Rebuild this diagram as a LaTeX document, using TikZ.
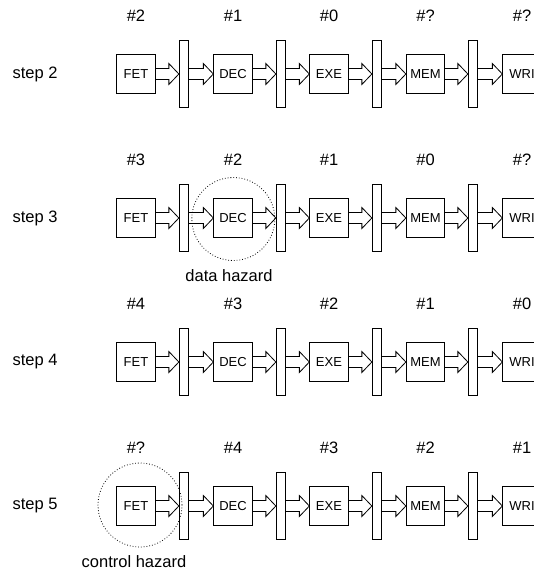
\documentclass[tikz,border=0pt]{standalone}
\usepackage{fontspec}
\setmainfont{Liberation Sans}
\usetikzlibrary{calc}
\newcommand\blockarrow[2]{%
  \draw[blk] let \p1=(#1.east), \p2=(#2.west) in
    (\x1,\y1-5.5pt) -- (\x2-10pt,\y1-5.5pt) -- (\x2-10pt,\y1-10.5pt) -- (\x2,\y1)
    -- (\x2-10pt,\y1+10.5pt) -- (\x2-10pt,\y1+5.5pt) -- (\x1,\y1+5.5pt);}
\begin{document}
\begin{tikzpicture}[x=1pt,y=-1pt,
  stage/.style={draw, line width=0.8pt, minimum width=38.5pt, minimum height=38.5pt, inner sep=0pt, font=\fontsize{13}{15}\selectfont},
  latch/.style={draw, line width=0.8pt, minimum width=9.5pt, minimum height=66.5pt, inner sep=0pt},
  lbl/.style={inner sep=0pt, font=\fontsize{16.5}{19}\selectfont},
  blk/.style={draw, line width=0.8pt, line join=miter},
  hazard/.style={draw, circle, line width=0.8pt, dash pattern=on 0.8pt off 2pt, inner sep=0pt}]
\useasboundingbox (0,0) rectangle (534,572);
\clip (0,0) rectangle (534,572);
\foreach \r/\y/\s/\ha/\hb/\hc/\hd/\he in {1/74/2/2/1/0/?/?, 2/218/3/3/2/1/0/?, 3/362/4/4/3/2/1/0, 4/506/5/?/4/3/2/1} {
  \node[lbl] (s\r) at (35,\y) {step \s};
  \node[stage] (f\r) at (136,\y) {FET};
  \node[latch] (ba\r) at (184,\y) {};
  \node[stage] (d\r) at (233,\y) {DEC};
  \node[latch] (bb\r) at (281,\y) {};
  \node[stage] (e\r) at (329,\y) {EXE};
  \node[latch] (bc\r) at (377,\y) {};
  \node[stage] (m\r) at (425.5,\y) {MEM};
  \node[latch] (bd\r) at (473,\y) {};
  \node[stage] (w\r) at (522,\y) {WRI};
  \node[lbl] (ha\r) at (136,\y-58) {\#\ha};
  \node[lbl] (hb\r) at (233,\y-58) {\#\hb};
  \node[lbl] (hc\r) at (329,\y-58) {\#\hc};
  \node[lbl] (hd\r) at (425.5,\y-58) {\#\hd};
  \node[lbl] (he\r) at (522,\y-58) {\#\he};
  \blockarrow{f\r}{ba\r}
  \blockarrow{ba\r}{d\r}
  \blockarrow{d\r}{bb\r}
  \blockarrow{bb\r}{e\r}
  \blockarrow{e\r}{bc\r}
  \blockarrow{bc\r}{m\r}
  \blockarrow{m\r}{bd\r}
  \blockarrow{bd\r}{w\r}
}
\node[hazard, minimum size=83pt] (dh) at (233.3,219) {};
\node[lbl] (dhl) at (229,276) {data hazard};
\node[hazard, minimum size=84pt] (ch) at (140,505) {};
\node[lbl] (chl) at (134,562) {control hazard};
\end{tikzpicture}
\end{document}
